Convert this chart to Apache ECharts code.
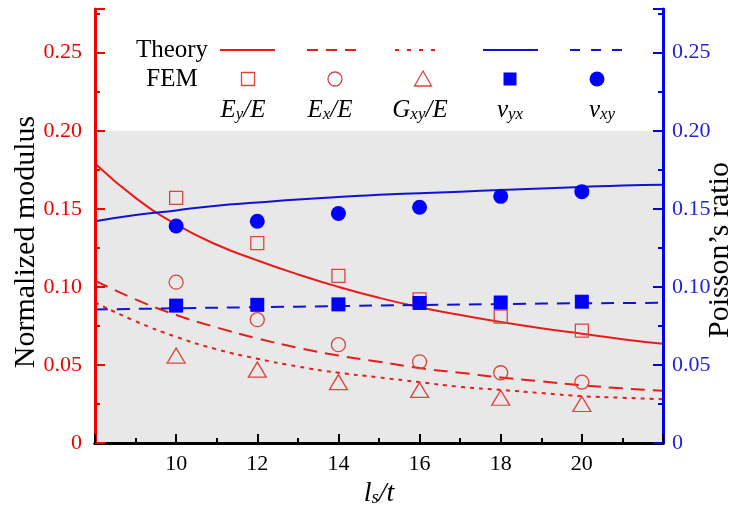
<!DOCTYPE html>
<html>
<head>
<meta charset="utf-8">
<script src="https://cdn.jsdelivr.net/npm/echarts@6/dist/echarts.min.js"></script>
<style>
  html, body { margin: 0; padding: 0; background: #fff; }
  #chart { width: 745px; height: 507px; }
</style>
</head>
<body>
<div id="chart"></div>
<script>
// theory curves (ls/t from 8 to 22)
var theoryX = [8, 9, 10, 11, 12, 13, 14, 15, 16, 17, 18, 19, 20, 21, 22];
var theoryEy = [0.179, 0.157, 0.140, 0.127, 0.117, 0.108, 0.100, 0.093, 0.087, 0.082, 0.0775, 0.0735, 0.070, 0.0665, 0.0635];
var theoryEx = [0.104, 0.092, 0.082, 0.074, 0.067, 0.061, 0.056, 0.052, 0.048, 0.045, 0.042, 0.0395, 0.037, 0.035, 0.0335];
var theoryGxy = [0.090, 0.078, 0.068, 0.060, 0.054, 0.049, 0.045, 0.042, 0.039, 0.036, 0.034, 0.032, 0.030, 0.029, 0.028];
var theoryV1 = [0.142, 0.146, 0.149, 0.152, 0.154, 0.156, 0.1575, 0.159, 0.160, 0.161, 0.162, 0.163, 0.164, 0.165, 0.1655];
var theoryV2X = [8, 10, 12, 14, 16, 18, 20, 22];
var theoryV2 = [0.0855, 0.0863, 0.087, 0.0877, 0.0884, 0.089, 0.0895, 0.0898];

// FEM points
var femX = [10, 12, 14, 16, 18, 20];
var femEy = [0.157, 0.128, 0.107, 0.092, 0.081, 0.072];
var femEx = [0.103, 0.079, 0.063, 0.052, 0.045, 0.039];
var femGxy = [0.056, 0.047, 0.039, 0.034, 0.029, 0.025];
var femVyx = [0.088, 0.0885, 0.0888, 0.0897, 0.090, 0.0905];
var femVxy = [0.139, 0.142, 0.147, 0.151, 0.158, 0.161];

var yTicks = ['0', '0.05', '0.10', '0.15', '0.20', '0.25'];
var shadeTop = 0.2;

function pairs(xs, ys) {
  var out = [];
  for (var i = 0; i < xs.length; i++) out.push([xs[i], ys[i]]);
  return out;
}

var RED = '#e81c1c';
var RED_MK = '#d9453f';
var BLUE = '#1212d6';
var BLUE_MK = '#0000ff';
var SERIF = 'Liberation Serif';

function yLabel(v) {
  var i = Math.round(v / 0.05);
  if (Math.abs(v - i * 0.05) > 1e-6) return '';
  return yTicks[i] || '';
}

var chart = echarts.init(document.getElementById('chart'));

var mainY = function (color, pos) {
  return {
    type: 'value', position: pos, min: 0, max: 0.278, interval: 0.05, z: 6,
    axisLine: { show: true, lineStyle: { color: color, width: 3 } },
    axisTick: { show: true, inside: true, length: 10, lineStyle: { color: color, width: 2 } },
    axisLabel: { color: color, fontFamily: SERIF, fontSize: 22, margin: 13, formatter: yLabel },
    splitLine: { show: false }
  };
};
var minorY = function (color, pos) {
  return {
    type: 'value', position: pos, min: 0, max: 0.278, interval: 0.025, z: 5,
    axisLine: { show: false },
    axisTick: { show: true, inside: true, length: 5, lineStyle: { color: color, width: 2 } },
    axisLabel: { show: false },
    splitLine: { show: false }
  };
};

var yLeft = mainY('#f00000', 'left');
var yRight = mainY('#0000ee', 'right');
yRight.axisLabel.color = '#2222dd';
yRight.axisLabel.margin = 9;

function lineSeries(xs, ys, color, type, yIdx) {
  return {
    type: 'line', yAxisIndex: yIdx, data: pairs(xs, ys), smooth: true,
    showSymbol: false, symbol: 'none', z: 3, silent: true,
    lineStyle: { color: color, width: 2, type: type }
  };
}
function scatterSeries(xs, ys, symbol, size, fill, stroke, yIdx) {
  return {
    type: 'scatter', yAxisIndex: yIdx, data: pairs(xs, ys), symbol: symbol,
    symbolSize: size, z: 4, silent: true,
    itemStyle: { color: fill, borderColor: stroke, borderWidth: stroke ? 1.3 : 0, opacity: 1 }
  };
}

function legendText(x, y, text) {
  return { type: 'text', x: x, y: y, z: 20,
    style: { text: text, fontFamily: SERIF, fontSize: 25, fill: '#000', align: 'center', verticalAlign: 'middle' } };
}
function axisName(x, y, text) {
  return { type: 'text', x: x, y: y, rotation: Math.PI / 2, z: 20,
    style: { text: text, fontFamily: SERIF, fontSize: 30, fill: '#000', align: 'center', verticalAlign: 'middle' } };
}
var subRich = {
  i: { fontFamily: SERIF, fontSize: 25, fontStyle: 'italic', lineHeight: 30, verticalAlign: 'bottom' },
  s: { fontFamily: SERIF, fontSize: 17, fontStyle: 'italic', lineHeight: 12, verticalAlign: 'bottom' }
};
function legendLabel(x, y, text) {
  return { type: 'text', x: x, y: y, z: 20,
    style: { text: text, rich: subRich, fill: '#000', align: 'center', verticalAlign: 'middle' } };
}

var option = {
  animation: false,
  backgroundColor: '#fff',
  grid: { left: 95, right: 82, top: 9, bottom: 64, containLabel: false, outerBoundsMode: 'none' },
  xAxis: [{
    type: 'value', min: 8, max: 22, interval: 2, z: 6,
    name: '{i|l}{s|s}{i|/t}', nameLocation: 'middle', nameGap: 32,
    nameTextStyle: { rich: {
      i: { fontFamily: SERIF, fontSize: 28, fontStyle: 'italic', lineHeight: 32, verticalAlign: 'bottom', color: '#000' },
      s: { fontFamily: SERIF, fontSize: 19, fontStyle: 'italic', lineHeight: 12, verticalAlign: 'bottom', color: '#000' }
    } },
    axisLine: { show: true, onZero: false, lineStyle: { color: '#000', width: 3 } },
    axisTick: { show: true, inside: true, length: 9, lineStyle: { color: '#000', width: 2 } },
    minorTick: { show: true, splitNumber: 2, length: 5, lineStyle: { color: '#000', width: 2 } },
    axisLabel: { color: '#000', fontFamily: SERIF, fontSize: 22, margin: 10,
      formatter: function (v) { return (v === 8 || v === 22) ? '' : String(v); } },
    splitLine: { show: false }
  }, {
    type: 'value', position: 'top', min: 8, max: 22, z: 6,
    axisLine: { show: true, lineStyle: { color: '#000', width: 3 } },
    axisTick: { show: false }, axisLabel: { show: false }, splitLine: { show: false }
  }],
  yAxis: [yLeft, yRight, minorY('#f00000', 'left'), minorY('#0000ee', 'right')],
  series: [
    {
      type: 'line', data: [[8, 0], [22, 0]], symbol: 'none', z: 1, silent: true,
      lineStyle: { opacity: 0 },
      markArea: { silent: true, itemStyle: { color: '#e8e8e8' },
        data: [[{ yAxis: 0 }, { yAxis: shadeTop }]] }
    },
    lineSeries(theoryX, theoryEy, RED, 'solid', 0),
    lineSeries(theoryX, theoryEx, RED, [14, 8], 0),
    lineSeries(theoryX, theoryGxy, RED, [4, 5], 0),
    lineSeries(theoryX, theoryV1, BLUE, 'solid', 1),
    lineSeries(theoryV2X, theoryV2, BLUE, [13, 9], 1),
    scatterSeries(femX, femEy, 'rect', 13, 'rgba(0,0,0,0)', RED_MK, 0),
    scatterSeries(femX, femEx, 'circle', 14, 'rgba(0,0,0,0)', RED_MK, 0),
    scatterSeries(femX, femGxy, 'triangle', [18, 15], 'rgba(0,0,0,0)', RED_MK, 0),
    scatterSeries(femX, femVyx, 'rect', 14, BLUE_MK, null, 1),
    scatterSeries(femX, femVxy, 'circle', 15, BLUE_MK, null, 1)
  ],
  graphic: [
    axisName(26, 242, 'Normalized modulus'),
    axisName(720, 250, 'Poisson\u2019s ratio'),
    legendText(172, 50, 'Theory'),
    legendText(172, 79, 'FEM'),
    { type: 'line', z: 20, shape: { x1: 220, y1: 50, x2: 275, y2: 50 }, style: { stroke: RED, lineWidth: 2 } },
    { type: 'line', z: 20, shape: { x1: 307, y1: 50, x2: 362, y2: 50 }, style: { stroke: RED, lineWidth: 2, lineDash: [11, 8] } },
    { type: 'line', z: 20, shape: { x1: 395, y1: 50, x2: 439, y2: 50 }, style: { stroke: RED, lineWidth: 2, lineDash: [4, 8] } },
    { type: 'line', z: 20, shape: { x1: 483, y1: 50, x2: 538, y2: 50 }, style: { stroke: BLUE, lineWidth: 2 } },
    { type: 'line', z: 20, shape: { x1: 570, y1: 50, x2: 624, y2: 50 }, style: { stroke: BLUE, lineWidth: 2, lineDash: [10, 11] } },
    { type: 'rect', z: 20, shape: { x: 241.5, y: 72.5, width: 13, height: 13 }, style: { fill: 'none', stroke: RED_MK, lineWidth: 1.3 } },
    { type: 'circle', z: 20, shape: { cx: 335, cy: 79, r: 7 }, style: { fill: 'none', stroke: RED_MK, lineWidth: 1.3 } },
    { type: 'polygon', z: 20, shape: { points: [[423, 71], [414.5, 86], [431.5, 86]] }, style: { fill: 'none', stroke: RED_MK, lineWidth: 1.3 } },
    { type: 'rect', z: 20, shape: { x: 503.5, y: 72.5, width: 13, height: 13 }, style: { fill: BLUE_MK } },
    { type: 'circle', z: 20, shape: { cx: 597, cy: 79, r: 7.5 }, style: { fill: BLUE_MK } },
    legendLabel(243, 108, '{i|E}{s|y}{i|/E}'),
    legendLabel(330, 108, '{i|E}{s|x}{i|/E}'),
    legendLabel(420, 108, '{i|G}{s|xy}{i|/E}'),
    legendLabel(510, 108, '{i|v}{s|yx}'),
    legendLabel(602, 108, '{i|v}{s|xy}')
  ]
};

chart.setOption(option);
</script>
</body>
</html>
